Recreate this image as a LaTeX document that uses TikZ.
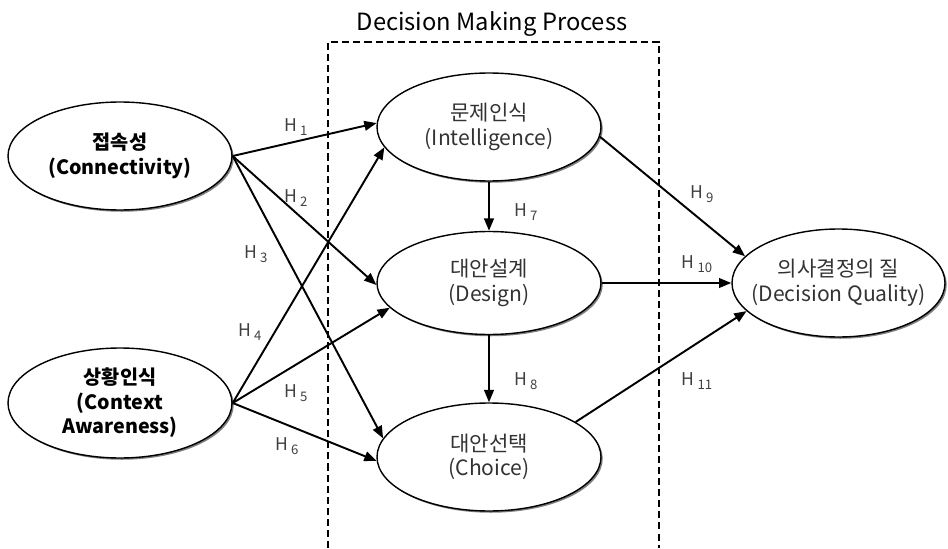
\documentclass[tikz,border=0pt]{standalone}
\usepackage{fontspec}
\setmainfont{Noto Sans CJK KR}
\usetikzlibrary{shapes.geometric,arrows.meta,shadows}
\tikzstyle{construct}=[ellipse,draw,line width=0.8pt,fill=white,inner sep=0pt,inner xsep=-10pt,minimum width=4.48cm,minimum height=2.16cm,align=center,font=\fontsize{12}{14}\selectfont,drop shadow={shadow xshift=1pt,shadow yshift=-1pt,fill=black!50,opacity=1}]
\tikzstyle{external}=[construct,font=\fontsize{11.2}{14}\selectfont\bfseries]
\tikzstyle{stage}=[construct,text=black!80]
\tikzstyle{link}=[-{Triangle[length=7pt,width=5.5pt]},line width=1.1pt]
\tikzstyle{hlabel}=[font=\fontsize{10}{12}\selectfont,text=black!75,inner sep=1pt]
\newcommand{\hyp}[1]{H\,\raisebox{-0.45ex}{\fontsize{7.5}{8}\selectfont #1}}

\begin{document}
\begin{tikzpicture}[]
  \useasboundingbox (0,0) rectangle (18.96,10.96);
% process frame
  \node (title) at (9.84,10.48) {\fontsize{13.5}{15}\selectfont Decision Making Process};
  \draw[line width=1.1pt,dash pattern=on 4pt off 2.3pt] (6.56,0) -- (6.56,10.12) -- (13.18,10.12) -- (13.18,0);
% constructs
  \node[external] (con) at (2.40,7.84) {접속성\\(Connectivity)};
  \node[external,minimum height=2.2cm] (ca) at (2.40,2.90) {상황인식\\(Context\\Awareness)};
  \node[stage] (int) at (9.78,8.42) {문제인식\\(Intelligence)};
  \node[stage,minimum height=2.06cm] (des) at (9.78,5.30) {대안설계\\(Design)};
  \node[stage] (cho) at (9.78,1.82) {대안선택\\(Choice)};
  \node[stage,minimum width=4.26cm] (dq) at (16.77,5.30) {의사결정의 질\\(Decision Quality)};
% hypotheses
  \draw[link] (con.east) -- (int.178);
  \draw[link] (con.east) -- (des.181);
  \draw[link] (con.east) -- (cho.170);
  \draw[link] (ca.east) -- (int.191);
  \draw[link] (ca.east) -- (des.194);
  \draw[link] (ca.east) -- (cho.182);
  \draw[link] (int.south) -- (des.north);
  \draw[link] (des.south) -- (cho.north);
  \draw[link] (int.-5) -- (dq.164);
  \draw[link] (des.east) -- (dq.west);
  \draw[link] (cho.22) -- (dq.197);
% labels
  \node[hlabel] (h1) at (5.92,8.42) {\hyp{1}};
  \node[hlabel] (h2) at (5.92,7.00) {\hyp{2}};
  \node[hlabel] (h3) at (5.12,5.88) {\hyp{3}};
  \node[hlabel] (h4) at (5.00,4.32) {\hyp{4}};
  \node[hlabel] (h5) at (5.92,3.10) {\hyp{5}};
  \node[hlabel] (h6) at (5.74,2.04) {\hyp{6}};
  \node[hlabel] (h7) at (10.52,6.72) {\hyp{7}};
  \node[hlabel] (h8) at (10.52,3.34) {\hyp{8}};
  \node[hlabel] (h9) at (14.04,7.08) {\hyp{9}};
  \node[hlabel] (h10) at (13.94,5.68) {\hyp{10}};
  \node[hlabel] (h11) at (13.94,3.34) {\hyp{11}};
\end{tikzpicture}
\end{document}
